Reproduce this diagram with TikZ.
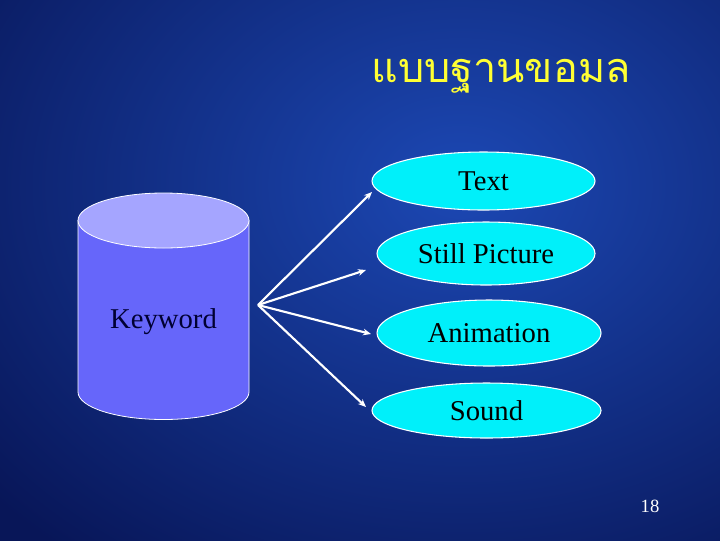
\documentclass[tikz,border=0pt]{standalone}
\usepackage{fontspec}
\setmainfont{Liberation Serif}
\newfontfamily\thaifont[Script=Thai]{Loma}
\usetikzlibrary{shapes.geometric,arrows.meta}
\definecolor{bgin}{RGB}{28,72,180}
\definecolor{bgout}{RGB}{8,22,88}
\definecolor{cylbody}{RGB}{102,102,250}
\definecolor{cyltop}{RGB}{165,165,255}
\definecolor{media}{RGB}{0,240,250}
\definecolor{titlecol}{RGB}{255,255,51}
\definecolor{navytext}{RGB}{0,0,51}
\tikzset{
  mediabox/.style={ellipse, draw=white, line width=0.8pt, fill=media, inner sep=0pt, font=\fontsize{21.5}{25}\selectfont},
  linkarrow/.style={draw=white, line width=1.6pt, -{Stealth[length=6pt,width=5pt]}}
}
\begin{document}
\begin{tikzpicture}[x=0.75pt,y=-0.75pt]
\path[use as bounding box] (0,0) rectangle (720,540);
\shade[inner color=bgin, outer color=bgout, shading=radial] (-160,-290) rectangle (1080,660);
% title
\node[text=titlecol, font=\thaifont\fontsize{31}{36}\selectfont] (title) at (501,76) {แบบฐานขอมล};
% cylinder
\fill[cylbody, draw=white, line width=0.6pt] (78,220.5) -- (78,392) arc[start angle=180, end angle=0, x radius=85.5, y radius=27.5] -- (249,220.5) -- cycle;
\fill[cyltop, draw=white, line width=0.6pt] (163.5,220.5) ellipse[x radius=85.5, y radius=27.5];
\node[text=navytext, font=\fontsize{21.5}{25}\selectfont] (kw) at (163.5,322) {Keyword};
% ellipses
\node[mediabox, minimum width=223*0.75pt, minimum height=58*0.75pt] (text) at (483.5,181) {Text};
\node[mediabox, minimum width=218*0.75pt, minimum height=63*0.75pt] (still) at (486,253.5) {Still Picture};
\node[mediabox, minimum width=224*0.75pt, minimum height=66*0.75pt] (anim) at (489,333) {Animation};
\node[mediabox, minimum width=229*0.75pt, minimum height=55*0.75pt] (sound) at (486.5,410.5) {Sound};
% arrows
\coordinate (o) at (258,305);
\coordinate (eText) at (372,192);
\coordinate (eStill) at (366,270);
\coordinate (eAnim) at (371,334);
\coordinate (eSound) at (366,407);
\draw[linkarrow] (o) -- (eText);
\draw[linkarrow] (o) -- (eStill);
\draw[linkarrow] (o) -- (eAnim);
\draw[linkarrow] (o) -- (eSound);
% page number
\node[text=white, font=\fontsize{14}{16}\selectfont] (num) at (650,506) {18};
\end{tikzpicture}
\end{document}
